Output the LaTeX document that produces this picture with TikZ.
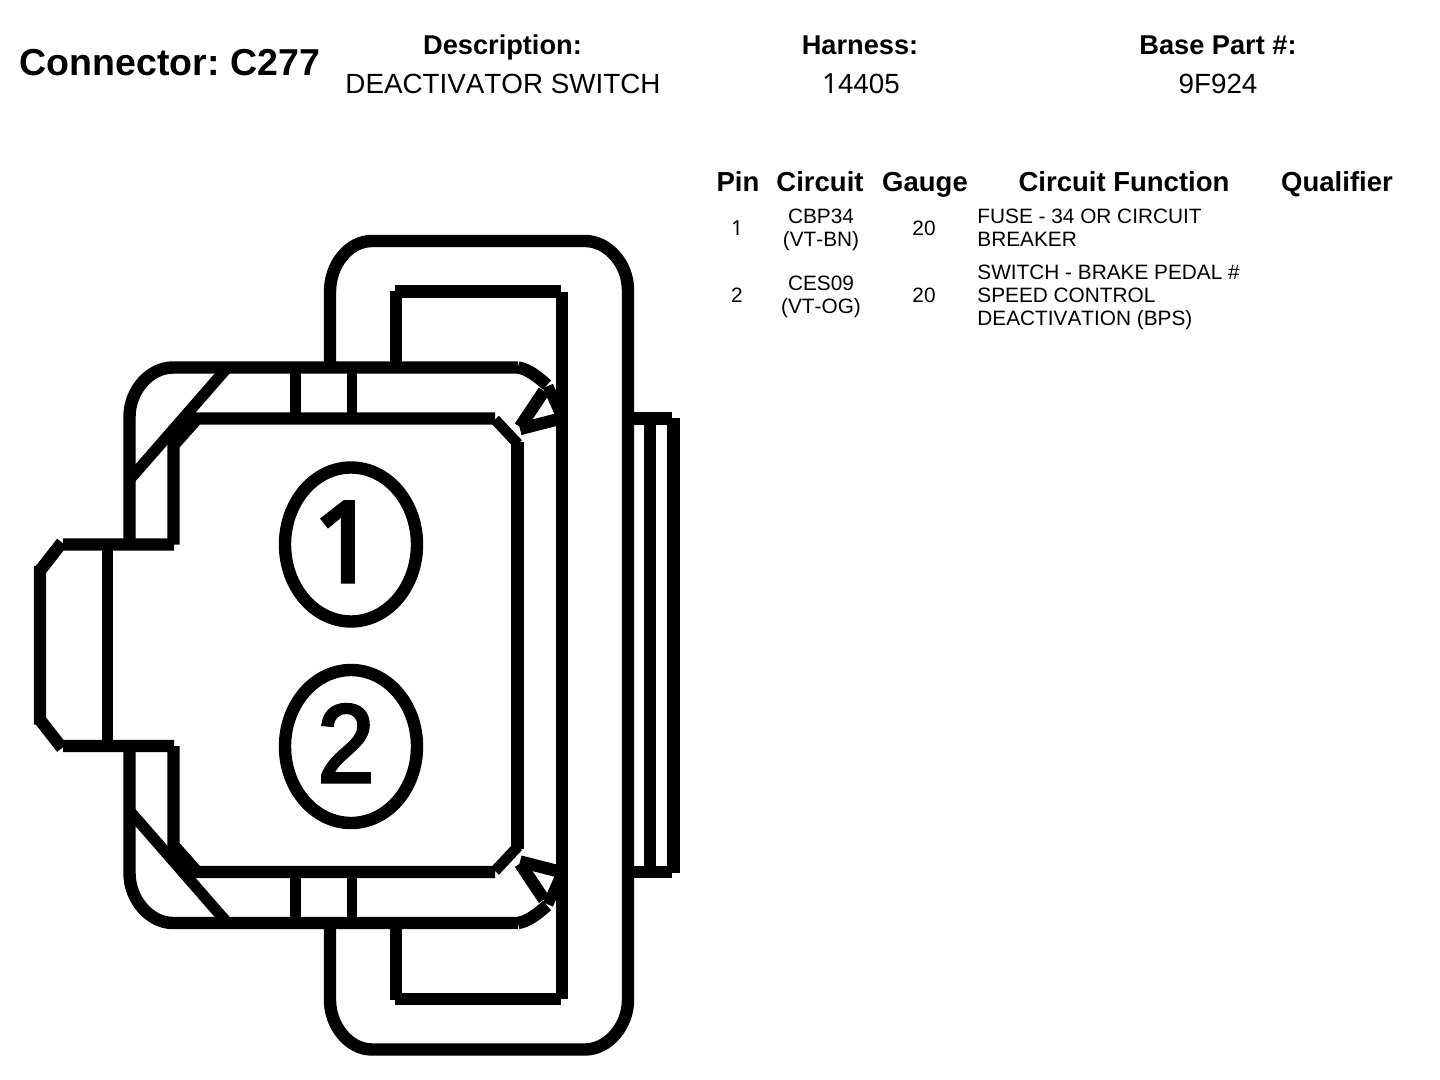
\documentclass[tikz,border=0pt]{standalone}
\usepackage{fontspec}
\setmainfont[Kerning=Off]{Liberation Sans}
\newfontfamily\onefont[Kerning=Off]{Noto Sans}
\newfontfamily\bigonefont[Kerning=Off,FakeBold=4]{Noto Sans}
\newfontfamily\twofont[Kerning=Off,FakeStretch=0.92,FakeBold=3]{Liberation Sans}
\frenchspacing
\begin{document}
\begin{tikzpicture}[x=0.5pt,y=-0.5pt,
  heavy/.style={line width=6.2pt,line cap=butt,line join=miter,black},
  medium/.style={line width=5.4pt,line cap=butt,line join=miter,black},
  title/.style={inner sep=0pt,anchor=base,font=\bfseries\fontsize{13.6}{16}\selectfont},
  val/.style={inner sep=0pt,anchor=base,font=\fontsize{13.9}{16}\selectfont},
  head/.style={inner sep=0pt,anchor=base,font=\bfseries\fontsize{13.75}{16}\selectfont},
  cell/.style={inner sep=0pt,anchor=base,font=\fontsize{10.4}{12}\selectfont},
  celll/.style={cell,anchor=base west},
  digit/.style={inner sep=0pt,anchor=base}]
\useasboundingbox (0,0) rectangle (1440,1080);
% texts
\node[inner sep=0pt,anchor=base west,font=\bfseries\fontsize{18.75}{20}\selectfont] (conn) at (19.5,75.5) {Connector: C277};
\node[title] (t1) at (502.5,55) {Description:};
\node[val] (v1) at (503,93.5) {DEACTIVATOR SWITCH};
\node[title] (t2) at (860,55) {Harness:};
\node[val] (v2) at (861,93.5) {{\onefont 1}4405};
\node[title] (t3) at (1218,55) {Base Part \#:};
\node[val] (v3) at (1218,93.5) {9F924};
\node[head] (h1) at (738,191.5) {Pin};
\node[head] (h2) at (820,191.5) {Circuit};
\node[head] (h3) at (925,191.5) {Gauge};
\node[head] (h4) at (1124,191.5) {Circuit Function};
\node[head] (h5) at (1337,191.5) {Qualifier};
\node[cell] (a1) at (737,236) {\onefont 1};
\node[cell] (a2) at (821,224) {CBP34};
\node[cell] (a3) at (821,247) {(VT-BN)};
\node[cell] (a4) at (924,236) {20};
\node[celll] (a5) at (977,224) {FUSE - 34 OR CIRCUIT};
\node[celll] (a6) at (977,247) {BREAKER};
\node[cell] (b1) at (737,303) {2};
\node[cell] (b2) at (821,291) {CES09};
\node[cell] (b3) at (821,314) {(VT-OG)};
\node[cell] (b4) at (924,303) {20};
\node[celll] (b5) at (977,280) {SWITCH - BRAKE PEDAL \#};
\node[celll] (b6) at (977,303) {SPEED CONTROL};
\node[celll] (b7) at (977,326) {DEACTIVATION (BPS)};
% pin circles
\draw[heavy] (351,544.5) ellipse [x radius=66,y radius=77];
\draw[heavy] (351,746.5) ellipse [x radius=66,y radius=76.5];
\node[digit,font=\bigonefont\fontsize{55.5}{60}\selectfont] (p1) at (345,581.5) {1};
\node[digit,font=\twofont\fontsize{55.5}{60}\selectfont] (p2) at (346,782) {2};
% outer clip (loop)
\draw[heavy] (330,367) -- (330,292) .. controls (330,264) and (349,241) .. (372,241) -- (585,241)
  .. controls (608,241) and (628,264) .. (628,290) -- (628,1000)
  .. controls (628,1026) and (608,1049.5) .. (585,1049.5) -- (372,1049.5)
  .. controls (349,1049.5) and (330,1026) .. (330,1000) -- (330,923);
% inner loop
\draw[heavy] (396,367) -- (396,291) (395,291.5) -- (561,291.5) (562,292) -- (562,998.5) (561,999) -- (395,999) (396,999.5) -- (396,923);
% body outline
\draw[heavy] (518,367.5) -- (173,367.5) .. controls (150,367.5) and (129.5,390) .. (129.5,417) -- (129.5,544.5);
\draw[heavy] (518,923) -- (173,923) .. controls (150,923) and (129.5,900) .. (129.5,873) -- (129.5,746);
\draw[heavy] (518,367.5) .. controls (528,369) and (538,377) .. (547,385);
\draw[heavy] (518,923) .. controls (528,921.5) and (538,913.5) .. (547,905.5);
% inner body outline
\draw[heavy] (173.5,544.5) -- (173.5,445) -- (197,418.5) -- (495,418.5);
\draw[heavy] (173.5,746) -- (173.5,845.5) -- (197,872) -- (495,872);
\draw[medium] (495,419.5) -- (518,444);
\draw[medium] (495,871) -- (518,846.5);
\draw[heavy] (517.5,442) -- (517.5,848.5);
% diagonals
\fill[black] (130,470.6) -- (216,372) -- (231,372) -- (130,487.6) -- cycle;
\fill[black] (130,819.9) -- (216,918.5) -- (231,918.5) -- (130,802.9) -- cycle;
% ticks
\foreach \x in {295.5,352}{
  \draw[medium] (\x,370) -- (\x,415);
  \draw[medium] (\x,875) -- (\x,920);
}
% latch triangles
\draw[heavy] (544,391) -- (520,427);
\draw[heavy] (520,429) -- (559,419);
\draw[medium] (548,386) -- (562,418);
\draw[heavy] (544,899.5) -- (520,863.5);
\draw[heavy] (520,861.5) -- (559,871.5);
\draw[medium] (548,904.5) -- (562,872.5);
% left nose
\draw[heavy] (174,544.5) -- (63,544.5) (62,542.5) -- (40.5,570) (40,566) -- (40,724.5) (40.5,720.5) -- (62,748) (63,746) -- (174,746);
\draw[medium] (107.5,544.5) -- (107.5,746);
% right tab
\draw[heavy] (628,418.5) -- (672,418.5) (673.5,418) -- (673.5,872.5) (672,872) -- (628,872);
\draw[heavy] (650,418.5) -- (650,872);
\end{tikzpicture}
\end{document}
